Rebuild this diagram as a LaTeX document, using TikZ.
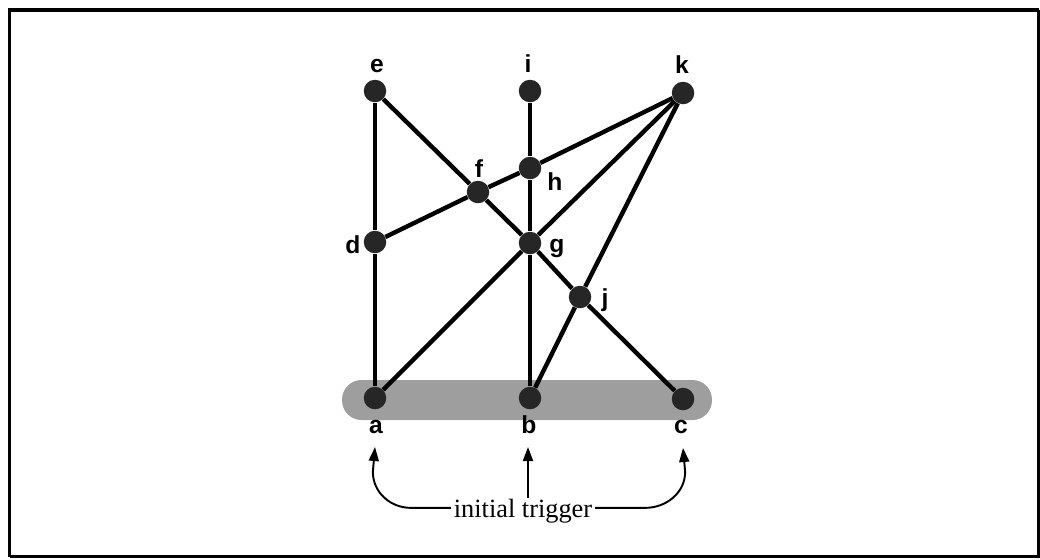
\documentclass[tikz,border=0pt]{standalone}
\usepackage{fontspec}
\setmainfont{Liberation Serif}
\setsansfont{Liberation Sans}
\usetikzlibrary{arrows.meta}
\begin{document}
\begin{tikzpicture}[x=0.02cm,y=-0.02cm,
    vtx/.style={circle,fill=black!85,inner sep=0pt,minimum size=0.45cm},
    lbl/.style={font=\sffamily\bfseries\fontsize{14}{16}\selectfont,inner sep=0pt,anchor=base},
    edge/.style={line width=2.5pt},
    band/.style={rectangle,rounded corners=0.39cm,fill=black!38,minimum width=7.4cm,minimum height=0.8cm,inner sep=0pt},
    trig/.style={-{Triangle[length=2.8mm,width=2mm]},line width=1.1pt}
  ]
  \useasboundingbox (0,0) rectangle (1040,559);
  \draw[line width=2.2pt] (9.5,556.5) -- (9.5,10) -- (1038.5,10);
  \draw[line width=1.2pt] (1038.5,10) -- (1038.5,556.5) -- (9.5,556.5);
  \node[band] (trigband) at (527,400) {};
  \node[vtx] (e) at (375,91) {};
  \node[vtx] (i) at (530,91) {};
  \node[vtx] (k) at (683,93) {};
  \node[vtx] (h) at (530,168) {};
  \node[vtx] (f) at (478,192) {};
  \node[vtx] (d) at (375,242) {};
  \node[vtx] (g) at (530,243) {};
  \node[vtx] (j) at (580,297) {};
  \node[vtx] (a) at (375,398) {};
  \node[vtx] (b) at (530,398) {};
  \node[vtx] (c) at (683,399) {};
  \node[lbl] (le) at (377,72) {e};
  \node[lbl] (li) at (528,72) {i};
  \node[lbl] (lk) at (682,73) {k};
  \node[lbl] (lf) at (479,177) {f};
  \node[lbl] (lh) at (555,190) {h};
  \node[lbl] (ld) at (353,253) {d};
  \node[lbl] (lg) at (557,252) {g};
  \node[lbl] (lj) at (605,306) {j};
  \node[lbl] (la) at (376,433) {a};
  \node[lbl] (lb) at (529,433) {b};
  \node[lbl] (lc) at (681,433) {c};
  \draw[edge] (e) -- (d) (d) -- (a);
  \draw[edge] (e) -- (f) (f) -- (g) (g) -- (j) (j) -- (c);
  \draw[edge] (i) -- (h) (h) -- (g) (g) -- (b);
  \draw[edge] (k) -- (h) (h) -- (f) (f) -- (d);
  \draw[edge] (k) -- (g) (g) -- (a);
  \draw[edge] (k) -- (j) (j) -- (b);
  \node[font=\fontsize{15}{17}\selectfont,inner xsep=1.5pt,inner ysep=0pt,text depth=0pt,anchor=base] (trigtext) at (523,517) {initial trigger};
  \coordinate (ta) at (375,447);
  \coordinate (tb) at (528,447);
  \coordinate (tc) at (683,448);
  \draw[trig] (trigtext.west) -- ++(-40,0) to[out=180,in=-90] ++(-38,-36) -- (ta);
  \draw[trig] (trigtext.north -| tb) -- (tb);
  \draw[trig] (trigtext.east) -- ++(50,0) to[out=0,in=-90] ++(40,-36) -- (tc);
\end{tikzpicture}
\end{document}
